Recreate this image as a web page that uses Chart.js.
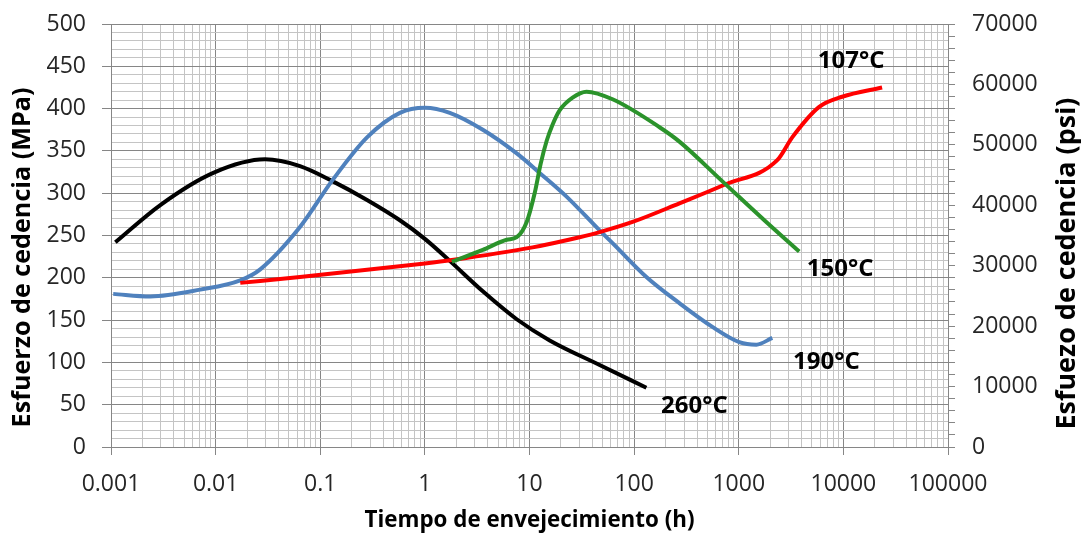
<!DOCTYPE html>
<html><head><meta charset="utf-8">
<script src="https://cdn.jsdelivr.net/npm/chart.js@4.4.1/dist/chart.umd.min.js"></script>
<style>html,body{margin:0;padding:0;background:#fff}#wrap{width:1081px;height:535px}</style>
</head><body><div id="wrap"><canvas id="c" width="1081" height="535"></canvas></div>
<script>
// ---- data (aging time in hours, yield strength in MPa) ----
const seriesNames = ['150°C', '107°C', '190°C', '260°C'];
const t150 = [1.81, 3.58, 6.06, 7.55, 9.4, 11.2, 12.8, 14.6, 16.6, 19.4, 25.8, 35.1, 62.2, 175, 271, 698, 1832, 3786];
const s150 = [219, 233, 245, 248, 266, 300, 335, 362, 381, 398, 413, 420, 411, 378, 361, 314, 266, 231];
const t107 = [0.0172, 0.064, 1.0, 1.81, 10.7, 30.1, 46.8, 96.6, 271, 729, 2333, 3244, 5876, 9743, 23450];
const s107 = [194, 201, 217, 221, 236, 248, 254, 266, 288, 310, 339, 366, 402, 414, 425];
const t190 = [0.00105, 0.00238, 0.00713, 0.0172, 0.0267, 0.064, 0.132, 0.28, 0.577, 1.0, 1.73, 3.58, 7.55, 12.5, 22.6, 46.8, 62.2, 131, 271, 560, 1013, 1473, 2094];
const s190 = [181, 178, 186, 197, 210, 260, 316, 366, 395, 401, 395, 375, 347, 324, 296, 256, 241, 201, 170, 142, 124, 121, 129];
const t260 = [0.0011, 0.00296, 0.0095, 0.0297, 0.064, 0.132, 0.28, 0.577, 1.0, 1.73, 3.58, 7.55, 15.6, 46.8, 131];
const s260 = [242, 286, 324, 340, 332, 314, 292, 268, 246, 220, 184, 151, 126, 97, 70];

const xTickLabels = ['0.001', '0.01', '0.1', '1', '10', '100', '1000', '10000', '100000'];
const yLeftTicks = ['0', '50', '100', '150', '200', '250', '300', '350', '400', '450', '500'];
const yRightTicks = ['0', '10000', '20000', '30000', '40000', '50000', '60000', '70000'];

const xTitle = 'Tiempo de envejecimiento (h)';
const yLeftTitle = 'Esfuerzo de cedencia (MPa)';
const yRightTitle = 'Esfuezo de cedencia (psi)';

const colors = ['#2b932b', '#ff0000', '#4f81bd', '#000000'];
const labelOffsets = [[41, 18], [-31, -26], [54, 24], [48, 18]];

const FONT = 'Open Sans';
const MAJOR = '#868686', MINOR = '#c4c4c4';

function pts(t, s) { return t.map((v, i) => ({x: v, y: s[i]})); }
const allSeries = [[t150, s150], [t107, s107], [t190, s190], [t260, s260]];

function isDecade(v) { const l = Math.log10(v); return Math.abs(l - Math.round(l)) < 1e-6; }

const seriesLabels = {
  id: 'seriesLabels',
  afterDatasetsDraw(chart) {
    const ctx = chart.ctx;
    ctx.save();
    ctx.font = 'bold 24px "' + FONT + '"';
    ctx.fillStyle = '#000';
    ctx.textAlign = 'center';
    ctx.textBaseline = 'middle';
    chart.data.datasets.forEach((ds, i) => {
      const meta = chart.getDatasetMeta(i);
      const last = meta.data[meta.data.length - 1];
      ctx.fillText(seriesNames[i], last.x + labelOffsets[i][0], last.y + labelOffsets[i][1]);
    });
    ctx.restore();
  }
};

function fitFont(ctx, text, target) {
  ctx.font = 'bold 20px "' + FONT + '"';
  const w = ctx.measureText(text).width;
  const size = 20 * target / w;
  ctx.font = 'bold ' + size.toFixed(2) + 'px "' + FONT + '"';
}

const axisTitles = {
  id: 'axisTitles',
  afterDraw(chart) {
    const ctx = chart.ctx, a = chart.chartArea;
    ctx.save();
    ctx.fillStyle = '#000';
    ctx.textAlign = 'center';
    ctx.textBaseline = 'middle';
    fitFont(ctx, xTitle, 330);
    ctx.fillText(xTitle, (a.left + a.right) / 2, a.bottom + 74);
    ctx.save();
    fitFont(ctx, yLeftTitle, 340);
    ctx.translate(a.left - 88, (a.top + a.bottom) / 2 + 22);
    ctx.rotate(-Math.PI / 2);
    ctx.fillText(yLeftTitle, 0, 0);
    ctx.restore();
    ctx.save();
    fitFont(ctx, yRightTitle, 332);
    ctx.translate(a.right + 119, (a.top + a.bottom) / 2 + 28);
    ctx.rotate(-Math.PI / 2);
    ctx.fillText(yRightTitle, 0, 0);
    ctx.restore();
    ctx.restore();
  }
};

function fixVertical(width) {
  return s => { s.width = width; s.paddingTop = 0; s.paddingBottom = 0; };
}

new Chart(document.getElementById('c'), {
  type: 'line',
  data: {
    datasets: allSeries.map((s, i) => ({
      label: seriesNames[i],
      data: pts(s[0], s[1]),
      borderColor: colors[i],
      backgroundColor: colors[i],
      borderWidth: 4,
      pointRadius: 0,
      fill: false,
      cubicInterpolationMode: 'monotone',
      yAxisID: 'y'
    }))
  },
  options: {
    responsive: false,
    animation: false,
    devicePixelRatio: 1,
    layout: {padding: {top: 24, left: 0, right: 0, bottom: 0}},
    plugins: {legend: {display: false}, tooltip: {enabled: false}},
    scales: {
      x: {
        type: 'logarithmic',
        position: 'bottom',
        min: 0.001, max: 100000,
        afterFit: s => { s.height = 88; s.paddingLeft = 0; s.paddingRight = 0; },
        afterBuildTicks: s => {
          const list = [];
          for (let e = -3; e <= 4; e++) for (let m = 1; m <= 9; m++) list.push({value: Number((m * Math.pow(10, e)).toPrecision(3))});
          list.push({value: 100000});
          s.ticks = list;
        },
        ticks: {
          autoSkip: false, maxRotation: 0, minRotation: 0,
          padding: 16, color: '#262626',
          font: {family: FONT, size: 23},
          callback: v => isDecade(v) ? xTickLabels[Math.round(Math.log10(v)) + 3] : ''
        },
        grid: {
          color: c => (c.tick && isDecade(c.tick.value)) ? MAJOR : MINOR,
          tickColor: c => (c.tick && isDecade(c.tick.value)) ? MAJOR : 'rgba(0,0,0,0)',
          tickLength: 8, lineWidth: 1
        },
        border: {color: MAJOR}
      },
      y: {
        position: 'left',
        min: 0, max: 500,
        afterFit: fixVertical(111),
        ticks: {
          stepSize: 10, autoSkip: false, padding: 16, color: '#262626',
          font: {family: FONT, size: 23},
          callback: v => (v % 50 === 0) ? yLeftTicks[v / 50] : ''
        },
        grid: {
          color: c => (c.tick && c.tick.value % 50 === 0) ? MAJOR : MINOR,
          tickColor: c => (c.tick && c.tick.value % 50 === 0) ? MAJOR : 'rgba(0,0,0,0)',
          tickLength: 9, lineWidth: 1
        },
        border: {color: MAJOR}
      },
      y2: {
        position: 'right',
        min: 0, max: 70000,
        afterFit: fixVertical(133),
        ticks: {
          stepSize: 2000, autoSkip: false, padding: 17, color: '#262626',
          font: {family: FONT, size: 23},
          callback: v => (v % 10000 === 0) ? yRightTicks[v / 10000] : ''
        },
        grid: {drawOnChartArea: false, color: MAJOR, tickColor: MAJOR, tickLength: 7},
        border: {color: MAJOR}
      }
    }
  },
  plugins: [seriesLabels, axisTitles]
});
</script></body></html>
